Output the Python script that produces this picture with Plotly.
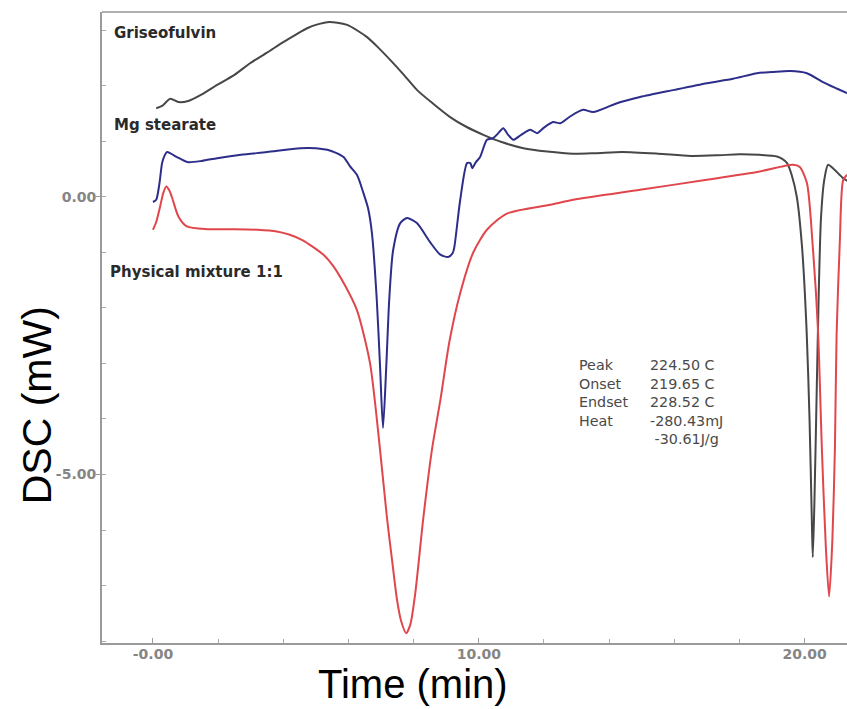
import plotly.graph_objects as go

# ---- data (time in min, DSC in mW) ----
gris_x = [0.1,0.28,0.53,0.78,1.08,1.5,1.97,2.5,2.98,3.5,4.0,4.4,4.73,5.05,5.35,5.66,5.96,6.27,6.57,6.9,
          7.28,7.7,8.1,8.6,9.12,9.6,10.14,10.7,11.37,12.1,12.9,13.6,14.4,15.5,16.5,17.3,18.0,18.6,19.15,19.3,
          19.46,19.6,19.76,19.92,20.06,20.15,20.22,20.25,20.3,20.37,20.43,20.5,20.6,20.72,20.9,21.18,21.35]
gris_y = [1.60,1.64,1.77,1.71,1.73,1.85,2.02,2.2,2.41,2.6,2.79,2.93,3.04,3.11,3.15,3.14,3.10,3.0,2.88,2.7,
          2.47,2.2,1.93,1.68,1.44,1.27,1.12,0.99,0.88,0.82,0.78,0.79,0.81,0.78,0.74,0.75,0.77,0.76,0.73,0.69,
          0.61,0.4,0.0,-0.9,-2.4,-4.0,-5.8,-6.49,-5.5,-3.5,-1.8,-0.4,0.3,0.58,0.5,0.34,0.28]

mg_x = [0.0,0.1,0.2,0.28,0.36,0.43,0.55,0.74,1.05,1.5,1.97,2.7,3.5,4.52,5.0,5.35,5.6,5.85,6.05,6.26,
        6.46,6.6,6.72,6.87,6.97,7.06,7.16,7.25,7.37,7.59,7.8,8.1,8.5,8.82,9.06,9.2,9.25,9.43,9.64,9.74,
        9.8,9.9,10.04,10.25,10.44,10.6,10.75,10.9,11.06,11.3,11.58,11.79,12.0,12.28,12.5,12.8,13.2,13.51,14.2,14.95,
        16.0,17.0,17.8,18.54,19.0,19.55,20.07,20.56,21.0,21.3]
mg_y = [-0.09,-0.05,0.25,0.61,0.75,0.81,0.78,0.72,0.63,0.65,0.70,0.76,0.81,0.88,0.88,0.85,0.80,0.72,0.55,0.40,
        0.07,-0.2,-0.65,-1.86,-3.06,-4.16,-3.06,-1.86,-0.96,-0.47,-0.38,-0.47,-0.81,-1.04,-1.08,-1.01,-0.9,-0.05,0.61,0.61,
        0.52,0.62,0.72,1.03,1.06,1.15,1.24,1.12,1.03,1.12,1.21,1.15,1.25,1.35,1.33,1.45,1.57,1.53,1.68,1.80,
        1.93,2.05,2.13,2.23,2.25,2.27,2.23,2.07,1.95,1.87]

mix_x = [0.0,0.1,0.22,0.32,0.41,0.5,0.58,0.78,1.04,1.66,2.5,3.2,3.8,4.2,4.6,4.91,5.25,5.54,5.9,6.26,
         6.66,6.97,7.18,7.35,7.49,7.62,7.77,7.9,8.05,8.3,8.56,8.82,9.1,9.43,9.83,10.25,10.86,12.2,12.9,14.95,
         17.0,18.54,19.64,19.85,20.07,20.25,20.41,20.53,20.65,20.75,20.85,20.93,20.98,21.08,21.18,21.3]
mix_y = [-0.59,-0.45,-0.17,0.08,0.19,0.12,0.0,-0.35,-0.53,-0.58,-0.58,-0.59,-0.62,-0.68,-0.78,-0.9,-1.05,-1.25,-1.6,-2.04,
         -2.99,-4.56,-5.77,-6.6,-7.26,-7.65,-7.86,-7.7,-7.14,-5.77,-4.56,-3.66,-2.6,-1.73,-1.0,-0.59,-0.3,-0.14,-0.05,0.13,
         0.31,0.45,0.58,0.54,0.25,-0.9,-2.4,-4.56,-6.3,-7.2,-6.2,-4.5,-2.5,-0.8,0.3,0.4]

series_names = ["Griseofulvin", "Mg stearate", "Physical mixture 1:1"]
x_tickvals = [0, 10, 20]
x_ticktext = ["-0.00", "10.00", "20.00"]
y_tickvals = [0, -5]
y_ticktext = ["0.00", "-5.00"]
stat_labels = ["Peak", "Onset", "Endset", "Heat"]
stat_values = ["224.50 C", "219.65 C", "228.52 C", "-280.43mJ", " -30.61J/g"]

fig = go.Figure()
for xs, ys, col, nm in [(gris_x, gris_y, "#474747", series_names[0]),
                        (mg_x, mg_y, "#2d2d8a", series_names[1]),
                        (mix_x, mix_y, "#e0464b", series_names[2])]:
    fig.add_trace(go.Scatter(x=xs, y=ys, mode="lines", name=nm,
                             line=dict(color=col, width=2, shape="spline", smoothing=0.7)))

tickfont = dict(family="DejaVu Sans", size=14, color="#858585", weight="bold")
fig.update_layout(
    width=847, height=709, margin=dict(l=102, r=0, t=12, b=66),
    paper_bgcolor="white", plot_bgcolor="white", showlegend=False,
    xaxis=dict(range=[-1.564, 21.3], showgrid=False, zeroline=False,
               showline=True, linecolor="#9a9a9a", linewidth=2,
               tickvals=x_tickvals, ticktext=x_ticktext, ticks="inside", ticklen=5,
               tickcolor="#9a9a9a", tickfont=tickfont, ticklabelstandoff=-3,
               minor=dict(dtick=2, tick0=0, ticks="inside", ticklen=4, tickcolor="#aaaaaa", showgrid=False)),
    yaxis=dict(range=[-8.036, 3.333], showgrid=False, zeroline=False,
               showline=True, linecolor="#9a9a9a", linewidth=2,
               tickvals=y_tickvals, ticktext=y_ticktext, ticks="outside", ticklen=4,
               tickcolor="#9a9a9a", tickfont=tickfont, ticklabelstandoff=-3,
               minor=dict(dtick=1, tick0=0, ticks="inside", ticklen=4, tickcolor="#aaaaaa", showgrid=False)),
)
fig.add_shape(type="line", xref="paper", yref="paper", x0=0, x1=1, y0=1, y1=1,
              line=dict(color="#b0b0b0", width=2))

lab_font = dict(family="DejaVu Sans", size=15, color="#2a2a2a", weight="bold")
for txt, xx, yy in [(series_names[0], -1.26, 2.95), (series_names[1], -1.26, 1.30), (series_names[2], -1.38, -1.35)]:
    fig.add_annotation(x=xx, y=yy, xref="x", yref="y", text=txt, showarrow=False,
                       xanchor="left", yanchor="middle", font=lab_font)

stat_font = dict(family="DejaVu Sans", size=14.3, color="#4a4a4a")
fig.add_annotation(x=13.0, y=-2.84, xref="x", yref="y", text="<br>".join(stat_labels),
                   showarrow=False, xanchor="left", yanchor="top", align="left", font=stat_font)
fig.add_annotation(x=15.2, y=-2.84, xref="x", yref="y", text="<br>".join(stat_values),
                   showarrow=False, xanchor="left", yanchor="top", align="left", font=stat_font)

fig.add_annotation(x=-0.087, y=0.377, xref="paper", yref="paper", text="DSC (mW)", showarrow=False,
                   textangle=-90, xanchor="center", yanchor="middle",
                   font=dict(family="Liberation Sans", size=41, color="#000000"))
fig.add_annotation(x=0.4175, y=-0.102, xref="paper", yref="paper", text="Time (min)", showarrow=False,
                   xanchor="center", yanchor="bottom", borderpad=0,
                   font=dict(family="Liberation Sans", size=40, color="#000000"))

fig.write_html("out.html")
